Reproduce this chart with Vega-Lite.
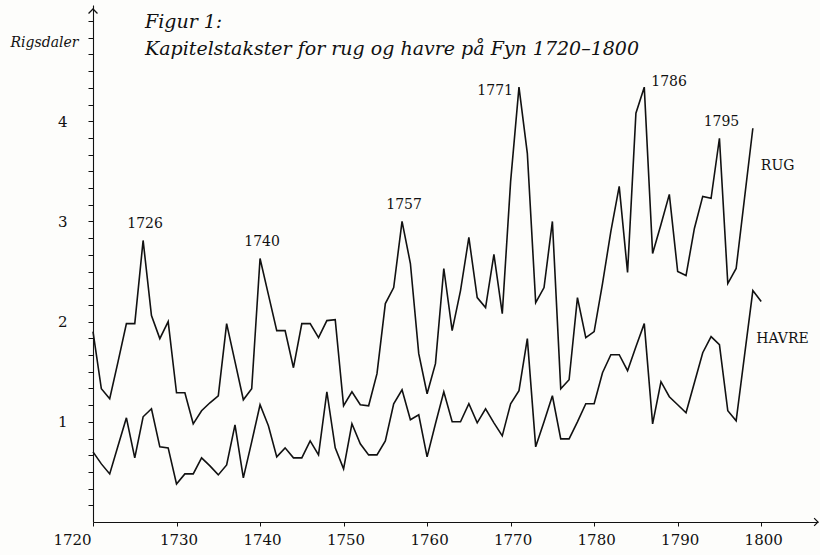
{
  "$schema": "https://vega.github.io/schema/vega-lite/v6.json",
  "width": 725,
  "height": 517,
  "autosize": {"type": "none"},
  "padding": {"left": 93, "top": 5, "right": 2, "bottom": 33},
  "background": "#fdfdfb",
  "config": {"view": {"stroke": null}, "font": "DejaVu Serif"},
  "title": {
    "text": ["Figur 1:", "Kapitelstakster for rug og havre på Fyn 1720–1800"],
    "anchor": "start",
    "frame": "group",
    "orient": "top",
    "baseline": "top",
    "offset": -48,
    "dx": 52,
    "dy": 6,
    "font": "DejaVu Serif",
    "fontStyle": "italic",
    "fontWeight": "normal",
    "fontSize": 19,
    "lineHeight": 27,
    "color": "#111"
  },
  "datasets": {
    "prices": [
      {"year":1720,"series":"RUG","value":1.90},{"year":1721,"series":"RUG","value":1.33},{"year":1722,"series":"RUG","value":1.23},{"year":1723,"series":"RUG","value":1.60},{"year":1724,"series":"RUG","value":1.98},{"year":1725,"series":"RUG","value":1.98},{"year":1726,"series":"RUG","value":2.81},{"year":1727,"series":"RUG","value":2.06},{"year":1728,"series":"RUG","value":1.83},{"year":1729,"series":"RUG","value":2.00},
      {"year":1730,"series":"RUG","value":1.29},{"year":1731,"series":"RUG","value":1.29},{"year":1732,"series":"RUG","value":0.98},{"year":1733,"series":"RUG","value":1.11},{"year":1734,"series":"RUG","value":1.19},{"year":1735,"series":"RUG","value":1.26},{"year":1736,"series":"RUG","value":1.98},{"year":1737,"series":"RUG","value":1.60},{"year":1738,"series":"RUG","value":1.22},{"year":1739,"series":"RUG","value":1.33},
      {"year":1740,"series":"RUG","value":2.63},{"year":1741,"series":"RUG","value":2.27},{"year":1742,"series":"RUG","value":1.91},{"year":1743,"series":"RUG","value":1.91},{"year":1744,"series":"RUG","value":1.54},{"year":1745,"series":"RUG","value":1.98},{"year":1746,"series":"RUG","value":1.98},{"year":1747,"series":"RUG","value":1.84},{"year":1748,"series":"RUG","value":2.01},{"year":1749,"series":"RUG","value":2.02},
      {"year":1750,"series":"RUG","value":1.16},{"year":1751,"series":"RUG","value":1.30},{"year":1752,"series":"RUG","value":1.17},{"year":1753,"series":"RUG","value":1.16},{"year":1754,"series":"RUG","value":1.48},{"year":1755,"series":"RUG","value":2.18},{"year":1756,"series":"RUG","value":2.34},{"year":1757,"series":"RUG","value":3.00},{"year":1758,"series":"RUG","value":2.58},{"year":1759,"series":"RUG","value":1.68},
      {"year":1760,"series":"RUG","value":1.28},{"year":1761,"series":"RUG","value":1.58},{"year":1762,"series":"RUG","value":2.53},{"year":1763,"series":"RUG","value":1.91},{"year":1764,"series":"RUG","value":2.31},{"year":1765,"series":"RUG","value":2.84},{"year":1766,"series":"RUG","value":2.24},{"year":1767,"series":"RUG","value":2.14},{"year":1768,"series":"RUG","value":2.67},{"year":1769,"series":"RUG","value":2.08},
      {"year":1770,"series":"RUG","value":3.40},{"year":1771,"series":"RUG","value":4.34},{"year":1772,"series":"RUG","value":3.68},{"year":1773,"series":"RUG","value":2.19},{"year":1774,"series":"RUG","value":2.34},{"year":1775,"series":"RUG","value":3.00},{"year":1776,"series":"RUG","value":1.33},{"year":1777,"series":"RUG","value":1.42},{"year":1778,"series":"RUG","value":2.24},{"year":1779,"series":"RUG","value":1.84},
      {"year":1780,"series":"RUG","value":1.90},{"year":1781,"series":"RUG","value":2.38},{"year":1782,"series":"RUG","value":2.90},{"year":1783,"series":"RUG","value":3.35},{"year":1784,"series":"RUG","value":2.49},{"year":1785,"series":"RUG","value":4.08},{"year":1786,"series":"RUG","value":4.34},{"year":1787,"series":"RUG","value":2.68},{"year":1788,"series":"RUG","value":2.97},{"year":1789,"series":"RUG","value":3.27},
      {"year":1790,"series":"RUG","value":2.50},{"year":1791,"series":"RUG","value":2.46},{"year":1792,"series":"RUG","value":2.93},{"year":1793,"series":"RUG","value":3.25},{"year":1794,"series":"RUG","value":3.23},{"year":1795,"series":"RUG","value":3.83},{"year":1796,"series":"RUG","value":2.38},{"year":1797,"series":"RUG","value":2.53},{"year":1798,"series":"RUG","value":3.23},{"year":1799,"series":"RUG","value":3.93},
      {"year":1720,"series":"HAVRE","value":0.70},{"year":1721,"series":"HAVRE","value":0.58},{"year":1722,"series":"HAVRE","value":0.48},{"year":1723,"series":"HAVRE","value":0.76},{"year":1724,"series":"HAVRE","value":1.04},{"year":1725,"series":"HAVRE","value":0.64},{"year":1726,"series":"HAVRE","value":1.05},{"year":1727,"series":"HAVRE","value":1.13},{"year":1728,"series":"HAVRE","value":0.75},{"year":1729,"series":"HAVRE","value":0.74},
      {"year":1730,"series":"HAVRE","value":0.38},{"year":1731,"series":"HAVRE","value":0.48},{"year":1732,"series":"HAVRE","value":0.48},{"year":1733,"series":"HAVRE","value":0.64},{"year":1734,"series":"HAVRE","value":0.56},{"year":1735,"series":"HAVRE","value":0.47},{"year":1736,"series":"HAVRE","value":0.57},{"year":1737,"series":"HAVRE","value":0.97},{"year":1738,"series":"HAVRE","value":0.44},{"year":1739,"series":"HAVRE","value":0.80},
      {"year":1740,"series":"HAVRE","value":1.17},{"year":1741,"series":"HAVRE","value":0.96},{"year":1742,"series":"HAVRE","value":0.65},{"year":1743,"series":"HAVRE","value":0.74},{"year":1744,"series":"HAVRE","value":0.64},{"year":1745,"series":"HAVRE","value":0.64},{"year":1746,"series":"HAVRE","value":0.81},{"year":1747,"series":"HAVRE","value":0.67},{"year":1748,"series":"HAVRE","value":1.30},{"year":1749,"series":"HAVRE","value":0.74},
      {"year":1750,"series":"HAVRE","value":0.53},{"year":1751,"series":"HAVRE","value":0.98},{"year":1752,"series":"HAVRE","value":0.78},{"year":1753,"series":"HAVRE","value":0.67},{"year":1754,"series":"HAVRE","value":0.67},{"year":1755,"series":"HAVRE","value":0.81},{"year":1756,"series":"HAVRE","value":1.18},{"year":1757,"series":"HAVRE","value":1.32},{"year":1758,"series":"HAVRE","value":1.02},{"year":1759,"series":"HAVRE","value":1.07},
      {"year":1760,"series":"HAVRE","value":0.65},{"year":1761,"series":"HAVRE","value":0.98},{"year":1762,"series":"HAVRE","value":1.30},{"year":1763,"series":"HAVRE","value":1.00},{"year":1764,"series":"HAVRE","value":1.00},{"year":1765,"series":"HAVRE","value":1.18},{"year":1766,"series":"HAVRE","value":0.99},{"year":1767,"series":"HAVRE","value":1.13},{"year":1768,"series":"HAVRE","value":0.99},{"year":1769,"series":"HAVRE","value":0.86},
      {"year":1770,"series":"HAVRE","value":1.18},{"year":1771,"series":"HAVRE","value":1.31},{"year":1772,"series":"HAVRE","value":1.83},{"year":1773,"series":"HAVRE","value":0.75},{"year":1774,"series":"HAVRE","value":1.00},{"year":1775,"series":"HAVRE","value":1.26},{"year":1776,"series":"HAVRE","value":0.83},{"year":1777,"series":"HAVRE","value":0.83},{"year":1778,"series":"HAVRE","value":1.00},{"year":1779,"series":"HAVRE","value":1.18},
      {"year":1780,"series":"HAVRE","value":1.18},{"year":1781,"series":"HAVRE","value":1.49},{"year":1782,"series":"HAVRE","value":1.67},{"year":1783,"series":"HAVRE","value":1.67},{"year":1784,"series":"HAVRE","value":1.51},{"year":1785,"series":"HAVRE","value":1.75},{"year":1786,"series":"HAVRE","value":1.98},{"year":1787,"series":"HAVRE","value":0.98},{"year":1788,"series":"HAVRE","value":1.40},{"year":1789,"series":"HAVRE","value":1.25},
      {"year":1790,"series":"HAVRE","value":1.17},{"year":1791,"series":"HAVRE","value":1.09},{"year":1792,"series":"HAVRE","value":1.39},{"year":1793,"series":"HAVRE","value":1.69},{"year":1794,"series":"HAVRE","value":1.85},{"year":1795,"series":"HAVRE","value":1.77},{"year":1796,"series":"HAVRE","value":1.11},{"year":1797,"series":"HAVRE","value":1.01},{"year":1798,"series":"HAVRE","value":1.66},{"year":1799,"series":"HAVRE","value":2.31},
      {"year":1800,"series":"HAVRE","value":2.20}
    ]
  },
  "data": {"name": "prices"},
  "encoding": {
    "x": {"field": "year", "type": "quantitative",
      "scale": {"domain": [1720, 1806.8], "nice": false, "zero": false},
      "axis": {"values": [1720,1730,1740,1750,1760,1770,1780,1790,1800], "format": "d", "title": null, "grid": false,
        "domainColor": "#111", "domainWidth": 1.1, "tickColor": "#111", "tickSize": 4, "labelFont": "DejaVu Serif",
        "labelFontSize": 15, "labelColor": "#111", "labelPadding": 6, "labelFlush": false, "labelOverlap": false,
        "labelOffset": {"condition": {"test": "datum.value == 1720", "value": -21}, "value": 2}}},
    "y": {"field": "value", "type": "quantitative",
      "scale": {"domain": [0, 5.16], "nice": false, "zero": true},
      "axis": {"values": [0.16667,0.33333,0.5,0.66667,0.83333,1,1.16667,1.33333,1.5,1.66667,1.83333,2,2.16667,2.33333,2.5,2.66667,2.83333,3,3.16667,3.33333,3.5,3.66667,3.83333,4,4.16667,4.33333,4.5,4.66667,4.83333,5],
        "labelExpr": "(datum.value == 1 || datum.value == 2 || datum.value == 3 || datum.value == 4) ? format(datum.value, 'd') : ''",
        "title": "Rigsdaler", "titleAngle": 0, "titleX": -15, "titleY": 37, "titleAlign": "right", "titleBaseline": "middle",
        "titleFont": "DejaVu Serif", "titleFontStyle": "italic", "titleFontWeight": "normal", "titleFontSize": 14, "titleColor": "#111",
        "grid": false, "domainColor": "#111", "domainWidth": 1.1, "tickColor": "#111", "tickSize": 5,
        "labelFont": "DejaVu Serif", "labelFontSize": 15, "labelColor": "#111", "labelPadding": 21, "labelOverlap": false}}
  },
  "layer": [
    {
      "mark": {"type": "line", "color": "#111", "strokeWidth": 1.6},
      "encoding": {"detail": {"field": "series", "type": "nominal"}}
    },
    {
      "transform": [{"filter": "datum.series == 'RUG' && (datum.year == 1726 || datum.year == 1740 || datum.year == 1757 || datum.year == 1795)"}],
      "mark": {"type": "text", "align": "center", "baseline": "bottom", "dx": 2, "dy": -9, "fontSize": 14, "font": "DejaVu Serif", "color": "#111"},
      "encoding": {"text": {"field": "year", "type": "quantitative", "format": "d"}}
    },
    {
      "transform": [{"filter": "datum.series == 'RUG' && datum.year == 1771"}],
      "mark": {"type": "text", "align": "right", "baseline": "middle", "dx": -6, "dy": 4, "fontSize": 14, "font": "DejaVu Serif", "color": "#111"},
      "encoding": {"text": {"field": "year", "type": "quantitative", "format": "d"}}
    },
    {
      "transform": [{"filter": "datum.series == 'RUG' && datum.year == 1786"}],
      "mark": {"type": "text", "align": "left", "baseline": "middle", "dx": 7, "dy": -5, "fontSize": 14, "font": "DejaVu Serif", "color": "#111"},
      "encoding": {"text": {"field": "year", "type": "quantitative", "format": "d"}}
    },
    {
      "transform": [{"filter": "datum.series == 'RUG' && datum.year == 1799"}],
      "mark": {"type": "text", "align": "left", "baseline": "middle", "dx": 8, "dy": 38, "fontSize": 14, "font": "DejaVu Serif", "color": "#111"},
      "encoding": {"text": {"field": "series", "type": "nominal"}}
    },
    {
      "transform": [{"filter": "datum.series == 'HAVRE' && datum.year == 1800"}],
      "mark": {"type": "text", "align": "left", "baseline": "middle", "dx": -5, "dy": 37, "fontSize": 14, "font": "DejaVu Serif", "color": "#111"},
      "encoding": {"text": {"field": "series", "type": "nominal"}}
    },
    {
      "transform": [{"filter": "datum.series == 'RUG' && datum.year == 1720"}],
      "mark": {"type": "point", "shape": "M-1,1L0,0L1,1", "filled": false, "stroke": "#111", "strokeWidth": 1.3, "size": 80, "opacity": 1},
      "encoding": {"x": {"datum": 1720, "type": "quantitative"}, "y": {"datum": 5.12, "type": "quantitative"}}
    },
    {
      "transform": [{"filter": "datum.series == 'RUG' && datum.year == 1720"}],
      "mark": {"type": "point", "shape": "M-1,-1L0,0L-1,1", "filled": false, "stroke": "#111", "strokeWidth": 1.2, "size": 60, "opacity": 1},
      "encoding": {"x": {"datum": 1806.8, "type": "quantitative"}, "y": {"datum": 0, "type": "quantitative"}}
    }
  ]
}
